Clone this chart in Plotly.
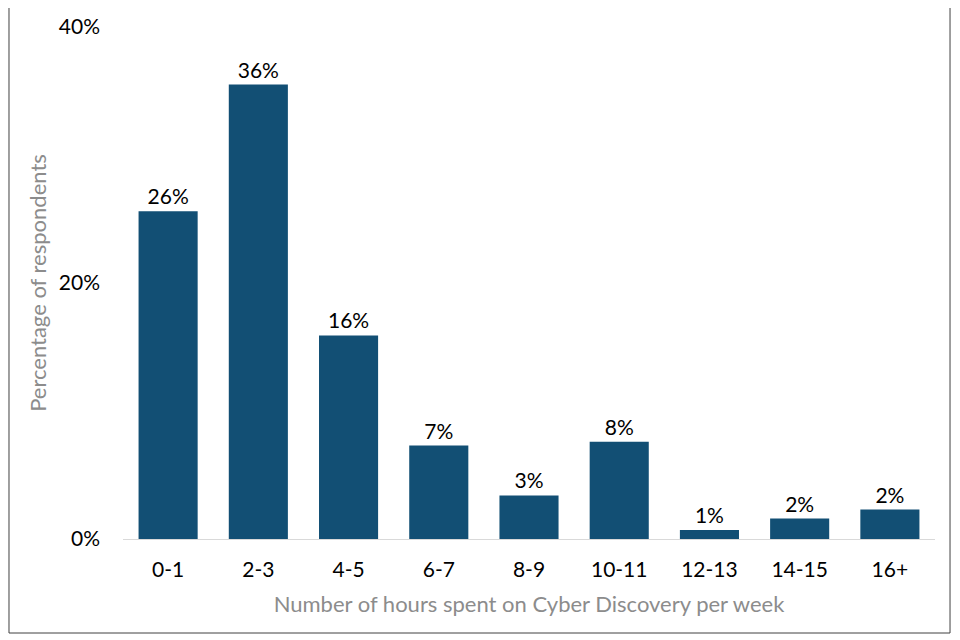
import plotly.graph_objects as go

categories = ["0-1", "2-3", "4-5", "6-7", "8-9", "10-11", "12-13", "14-15", "16+"]
values = [25.6, 35.5, 15.9, 7.3, 3.4, 7.6, 0.7, 1.6, 2.3]
labels = ["26%", "36%", "16%", "7%", "3%", "8%", "1%", "2%", "2%"]
y_ticks = [0, 20, 40]
y_tick_text = ["0%", "20%", "40%"]

FONT = "Lato, 'Open Sans', sans-serif"

fig = go.Figure(go.Bar(
    x=categories, y=values, text=labels, textposition="outside",
    textfont=dict(family=FONT, size=21, color="#000000"),
    marker=dict(color="#124F74", line=dict(width=0)),
    cliponaxis=False,
))

# page body has an 8px default margin; compensate so the plot lands where the reference has it
fig.update_layout(
    width=952, height=632,
    margin=dict(l=115, r=25, t=19, b=101, autoexpand=False),
    paper_bgcolor="white", plot_bgcolor="white",
    bargap=0.345,
    showlegend=False,
    font=dict(family=FONT),
    xaxis=dict(
        type="category", automargin=False,
        showgrid=False, showline=True, linecolor="#d9d9d9", linewidth=1,
        ticks="", tickfont=dict(family=FONT, size=21, color="#000000"),
        ticklabelstandoff=12,
        title=dict(text="Number of hours spent on Cyber Discovery per week",
                   font=dict(family=FONT, size=22, color="#8c8c8c"), standoff=16),
    ),
    yaxis=dict(
        range=[0, 40], tickvals=y_ticks, ticktext=y_tick_text, automargin=False,
        showgrid=False, showline=False, zeroline=False, ticks="",
        tickfont=dict(family=FONT, size=21, color="#000000"),
        ticklabelstandoff=22,
        title=dict(text="Percentage of respondents",
                   font=dict(family=FONT, size=22, color="#8c8c8c"), standoff=6),
    ),
    shapes=[dict(type="rect", xref="paper", yref="paper",
                 x0=-0.1404, x1=1.0185, y0=-0.1836, y1=1.043,
                 line=dict(color="#404040", width=1), fillcolor="rgba(0,0,0,0)")],
)

fig.write_html("out.html")
